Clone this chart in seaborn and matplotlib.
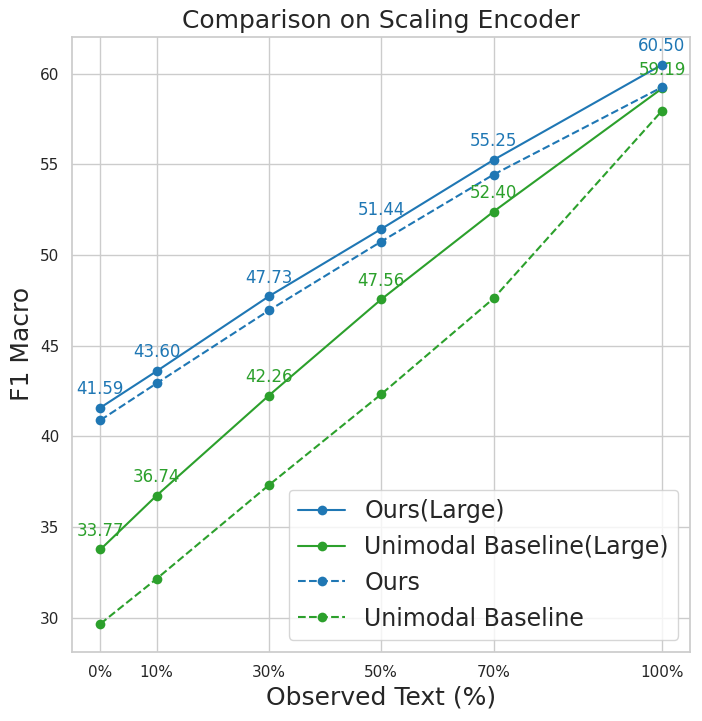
import matplotlib
matplotlib.use("Agg")
import matplotlib.pyplot as plt
import seaborn as sns
import pandas as pd

observed = [0, 10, 30, 50, 70, 100]
tick_labels = ["0%", "10%", "30%", "50%", "70%", "100%"]

ours_large = [41.59, 43.60, 47.73, 51.44, 55.25, 60.50]
uni_large = [33.77, 36.74, 42.26, 47.56, 52.40, 59.19]
ours = [40.90, 42.93, 46.95, 50.75, 54.44, 59.26]
uni = [29.67, 32.15, 37.32, 42.33, 47.61, 57.96]

sns.set_theme(style="whitegrid")
plt.rcParams['font.family'] = ['DejaVu Sans']

blue = "#1f77b4"
green = "#2ca02c"

fig, ax = plt.subplots(figsize=(7.02, 7.21), dpi=100)

series = [
    ("Ours(Large)", ours_large, blue, "-"),
    ("Unimodal Baseline(Large)", uni_large, green, "-"),
    ("Ours", ours, blue, "--"),
    ("Unimodal Baseline", uni, green, "--"),
]
for name, vals, color, ls in series:
    df = pd.DataFrame({"x": observed, "y": vals})
    sns.lineplot(data=df, x="x", y="y", ax=ax, color=color, linestyle=ls,
                 marker="o", markersize=7, markeredgewidth=0, label=name)

# value labels on the large models
for vals, color in [(ours_large, blue), (uni_large, green)]:
    for x, y in zip(observed, vals):
        ax.annotate(f"{y:.2f}", (x, y), textcoords="offset points", xytext=(0, 7),
                    ha="center", va="bottom", color=color, fontsize=12)

ax.set_xticks(observed)
ax.set_xticklabels(tick_labels, fontsize=11)
ax.tick_params(axis="y", labelsize=11)
ax.set_xlabel("Observed Text (%)", fontsize=18)
ax.set_ylabel("F1 Macro", fontsize=18)
ax.set_title("Comparison on Scaling Encoder", fontsize=18)
ax.legend(loc="lower right", fontsize=17)

plt.subplots_adjust(left=0.103, right=0.983, top=0.949, bottom=0.096)
plt.savefig("out.png", dpi=100)
